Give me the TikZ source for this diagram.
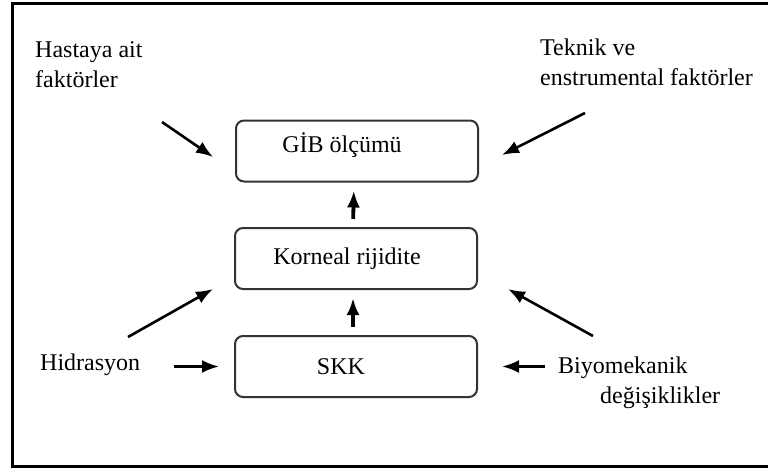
\documentclass[tikz,border=0pt]{standalone}
\usepackage{fontspec}
\setmainfont{Liberation Serif}
\usetikzlibrary{arrows.meta}
\tikzset{
  box/.style={draw=black!80, line width=2pt, rounded corners=8pt,
    minimum width=242pt, minimum height=61pt, inner sep=0pt},
  lbl/.style={anchor=base west, inner sep=0pt, align=left},
  arr/.style={-{Latex[length=17pt,width=13pt]}, line width=2.6pt},
  uparr/.style={-{Latex[length=17pt,width=13pt]}, line width=3.8pt}
}
\begin{document}
\begin{tikzpicture}[x=1pt, y=-1pt, font=\fontsize{24}{29.5}\selectfont]
      \clip (0,0) rectangle (768,469);
      \draw[line width=3pt] (12,3.5) rectangle (790,466);
      \draw
        (357,151) node[box] (gib){\raisebox{6pt}[\height][\depth]{GİB ölçümü}\kern30pt}
        (356,258.5) node[box] (kor){Korneal rijidite\kern18pt}
        (356,366.5) node[box] (skk){SKK\kern30pt}
        (35,87) node[lbl] (hasta){Hastaya ait\\faktörler}
        (540,85) node[lbl] (teknik){Teknik ve\\enstrumental faktörler}
        (40,370) node[lbl] (hid){Hidrasyon}
        (558,403) node[lbl] (bio){Biyomekanik\\\hspace*{42pt}değişiklikler};
      % free ends of the slanted arrows
      \coordinate (t1) at (162,122);
      \coordinate (t2) at (585,113);
      \coordinate (t3) at (128,337);
      \coordinate (t4) at (593,336);
      \coordinate (h1) at (213,157);
      \coordinate (h2) at (502,155);
      \coordinate (h3) at (213,289);
      \coordinate (h4) at (508,289);
      \begin{scope}[arr]
        \draw (t1) to (h1);
        \draw (t2) to (h2);
        \draw (t3) to (h3);
        \draw (t4) to (h4);
        \draw[shorten <=34pt, shorten >=15pt] (skk.west -| hid.east) to (skk.west);
        \draw[shorten <=13pt, shorten >=24pt] (skk.east -| bio.west) to (skk.east);
      \end{scope}
      \begin{scope}[uparr]
        \draw[shorten <=8pt, shorten >=8pt] ([xshift=-3pt]kor.north) to ([xshift=-3pt]gib.south);
        \draw[shorten <=8pt, shorten >=8pt] ([xshift=-3pt]skk.north) to ([xshift=-3pt]kor.south);
      \end{scope}
    \end{tikzpicture}
\end{document}
